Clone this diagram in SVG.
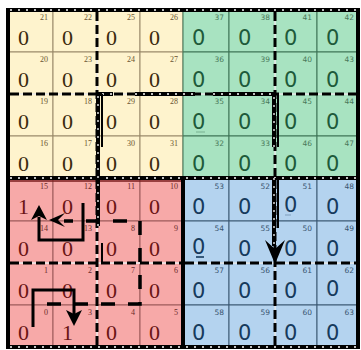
<svg xmlns="http://www.w3.org/2000/svg" width="361" height="350" viewBox="0 0 361 350">
<style>
.y rect{fill:#fef3cd;stroke:#9a8a6a;stroke-width:1}
.g rect{fill:#a8e3c1;stroke:#3f7457;stroke-width:1}
.p rect{fill:#f7a9a8;stroke:#9c5a5a;stroke-width:1}
.b rect{fill:#b4d3ef;stroke:#3d5a75;stroke-width:1}
.y text,.p text{font-family:"Liberation Serif","DejaVu Serif",serif}
.g text,.b text{font-family:"DejaVu Sans","Liberation Sans",sans-serif}
text.n{font-size:22px}
.g text.n,.b text.n{font-size:21px}
text.l{font-size:8px;text-anchor:end}
.g text.l,.b text.l{font-size:7.5px}
.y .n{fill:#3b2a0e}.y .l{fill:#6b5530}
.g .n{fill:#1e5a3a}.g .l{fill:#4a7a5a}
.p .n{fill:#6a1414}.p .l{fill:#6a2a2a}
.b .n{fill:#163a5c}.b .l{fill:#3a5570}
.wu{stroke:#fff;stroke-width:1.5;fill:none}
.dash{stroke:#000;stroke-width:3;stroke-dasharray:9 4;fill:none}
.thick{stroke:#000;stroke-width:4;fill:none}
.dots{stroke:#fff;stroke-width:1.3;stroke-dasharray:2 6;fill:none}
.thin{stroke:#000;stroke-width:2;fill:none}
.path{stroke:#000;stroke-width:3;fill:none}
.pdash{stroke:#000;stroke-width:3.5;stroke-dasharray:14 13;fill:none}
.ah{fill:#000}
</style>
<rect width="361" height="350" fill="#fff"/>
<g id="cells">
<!-- row 0 -->
<g id="c21" class="y"><rect x="9" y="10" width="44" height="42"/><text class="n" x="18" y="45">0</text><text class="l" x="48" y="20">21</text></g>
<g id="c22" class="y"><rect x="53" y="10" width="44" height="42"/><text class="n" x="62" y="45">0</text><text class="l" x="92" y="20">22</text></g>
<g id="c25" class="y"><rect x="97" y="10" width="43" height="42"/><text class="n" x="106" y="45">0</text><text class="l" x="135" y="20">25</text></g>
<g id="c26" class="y"><rect x="140" y="10" width="43" height="42"/><text class="n" x="149" y="45">0</text><text class="l" x="178" y="20">26</text></g>
<g id="c37" class="g"><rect x="183" y="10" width="46" height="42"/><text class="n" x="192" y="45">0</text><text class="l" x="224" y="20">37</text></g>
<g id="c38" class="g"><rect x="229" y="10" width="46" height="42"/><text class="n" x="238" y="45">0</text><text class="l" x="270" y="20">38</text></g>
<g id="c41" class="g"><rect x="275" y="10" width="42" height="42"/><text class="n" x="284" y="45">0</text><text class="l" x="312" y="20">41</text></g>
<g id="c42" class="g"><rect x="317" y="10" width="41" height="42"/><text class="n" x="326" y="45">0</text><text class="l" x="354" y="20">42</text></g>
<!-- row 1 -->
<g id="c20" class="y"><rect x="9" y="52" width="44" height="42"/><text class="n" x="18" y="87">0</text><text class="l" x="48" y="62">20</text></g>
<g id="c23" class="y"><rect x="53" y="52" width="44" height="42"/><text class="n" x="62" y="87">0</text><text class="l" x="92" y="62">23</text></g>
<g id="c24" class="y"><rect x="97" y="52" width="43" height="42"/><text class="n" x="106" y="87">0</text><text class="l" x="135" y="62">24</text></g>
<g id="c27" class="y"><rect x="140" y="52" width="43" height="42"/><text class="n" x="149" y="87">0</text><text class="l" x="178" y="62">27</text></g>
<g id="c36" class="g"><rect x="183" y="52" width="46" height="42"/><text class="n" x="192" y="87">0</text><text class="l" x="224" y="62">36</text></g>
<g id="c39" class="g"><rect x="229" y="52" width="46" height="42"/><text class="n" x="238" y="87">0</text><text class="l" x="270" y="62">39</text></g>
<g id="c40" class="g"><rect x="275" y="52" width="42" height="42"/><text class="n" x="284" y="87">0</text><text class="l" x="312" y="62">40</text></g>
<g id="c43" class="g"><rect x="317" y="52" width="41" height="42"/><text class="n" x="326" y="87">0</text><text class="l" x="354" y="62">43</text></g>
<!-- row 2 -->
<g id="c19" class="y"><rect x="9" y="94" width="44" height="42"/><text class="n" x="18" y="129">0</text><text class="l" x="48" y="104">19</text></g>
<g id="c18" class="y"><rect x="53" y="94" width="44" height="42"/><text class="n" x="62" y="129">0</text><text class="l" x="92" y="104">18</text></g>
<g id="c29" class="y"><rect x="97" y="94" width="43" height="42"/><text class="n" x="106" y="129">0</text><text class="l" x="135" y="104">29</text></g>
<g id="c28" class="y"><rect x="140" y="94" width="43" height="42"/><text class="n" x="149" y="129">0</text><text class="l" x="178" y="104">28</text></g>
<g id="c35" class="g"><rect x="183" y="94" width="46" height="42"/><text class="n" x="192" y="129">0</text><text class="l" x="224" y="104">35</text><line x1="196" y1="132" x2="205" y2="132" stroke="#1e5a3a" stroke-opacity="0.35" stroke-width="1"/></g>
<g id="c34" class="g"><rect x="229" y="94" width="46" height="42"/><text class="n" x="238" y="129">0</text><text class="l" x="270" y="104">34</text></g>
<g id="c45" class="g"><rect x="275" y="94" width="42" height="42"/><text class="n" x="284" y="129">0</text><text class="l" x="312" y="104">45</text></g>
<g id="c44" class="g"><rect x="317" y="94" width="41" height="42"/><text class="n" x="326" y="129">0</text><text class="l" x="354" y="104">44</text></g>
<!-- row 3 -->
<g id="c16" class="y"><rect x="9" y="136" width="44" height="42"/><text class="n" x="18" y="171">0</text><text class="l" x="48" y="146">16</text></g>
<g id="c17" class="y"><rect x="53" y="136" width="44" height="42"/><text class="n" x="62" y="171">0</text><text class="l" x="92" y="146">17</text></g>
<g id="c30" class="y"><rect x="97" y="136" width="43" height="42"/><text class="n" x="106" y="171">0</text><text class="l" x="135" y="146">30</text></g>
<g id="c31" class="y"><rect x="140" y="136" width="43" height="42"/><text class="n" x="149" y="171">0</text><text class="l" x="178" y="146">31</text></g>
<g id="c32" class="g"><rect x="183" y="136" width="46" height="42"/><text class="n" x="192" y="171">0</text><text class="l" x="224" y="146">32</text></g>
<g id="c33" class="g"><rect x="229" y="136" width="46" height="42"/><text class="n" x="238" y="171">0</text><text class="l" x="270" y="146">33</text></g>
<g id="c46" class="g"><rect x="275" y="136" width="42" height="42"/><text class="n" x="284" y="171">0</text><text class="l" x="312" y="146">46</text></g>
<g id="c47" class="g"><rect x="317" y="136" width="41" height="42"/><text class="n" x="326" y="171">0</text><text class="l" x="354" y="146">47</text></g>
<!-- row 4 -->
<g id="c15" class="p"><rect x="9" y="178" width="44" height="43"/><text class="n" x="18" y="214">1</text><text class="l" x="48" y="189">15</text></g>
<g id="c12" class="p"><rect x="53" y="178" width="44" height="43"/><text class="n" x="62" y="214">0</text><text class="l" x="92" y="189">12</text></g>
<g id="c11" class="p"><rect x="97" y="178" width="43" height="43"/><text class="n" x="106" y="214">0</text><text class="l" x="135" y="189">11</text></g>
<g id="c10" class="p"><rect x="140" y="178" width="43" height="43"/><text class="n" x="149" y="214">0</text><text class="l" x="178" y="189">10</text></g>
<g id="c53" class="b"><rect x="183" y="178" width="46" height="43"/><text class="n" x="192" y="214">0</text><text class="l" x="224" y="189">53</text></g>
<g id="c52" class="b"><rect x="229" y="178" width="46" height="43"/><text class="n" x="238" y="214">0</text><text class="l" x="270" y="189">52</text></g>
<g id="c51" class="b"><rect x="275" y="178" width="42" height="43"/><text class="n" x="284" y="212">0</text><text class="l" x="312" y="189">51</text><line x1="285" y1="215" x2="291" y2="215" stroke="#163a5c" stroke-opacity="0.35" stroke-width="1"/></g>
<g id="c48" class="b"><rect x="317" y="178" width="41" height="43"/><text class="n" x="326" y="214">0</text><text class="l" x="354" y="189">48</text></g>
<!-- row 5 -->
<g id="c14" class="p"><rect x="9" y="221" width="44" height="42"/><text class="n" x="18" y="256">0</text><text class="l" x="48" y="231">14</text></g>
<g id="c13" class="p"><rect x="53" y="221" width="44" height="42"/><text class="n" x="62" y="256">0</text><text class="l" x="92" y="231">13</text></g>
<g id="c8" class="p"><rect x="97" y="221" width="43" height="42"/><text class="n" x="106" y="256">0</text><text class="l" x="135" y="231">8</text></g>
<g id="c9" class="p"><rect x="140" y="221" width="43" height="42"/><text class="n" x="149" y="256">0</text><text class="l" x="178" y="231">9</text></g>
<g id="c54" class="b"><rect x="183" y="221" width="46" height="42"/><text class="n" x="192" y="254">0</text><text class="l" x="224" y="231">54</text><line x1="196" y1="257" x2="204" y2="257" stroke="#163a5c" stroke-width="1.6"/></g>
<g id="c55" class="b"><rect x="229" y="221" width="46" height="42"/><text class="n" x="238" y="256">0</text><text class="l" x="270" y="231">55</text></g>
<g id="c50" class="b"><rect x="275" y="221" width="42" height="42"/><text class="n" x="284" y="256">0</text><text class="l" x="312" y="231">50</text></g>
<g id="c49" class="b"><rect x="317" y="221" width="41" height="42"/><text class="n" x="326" y="256">0</text><text class="l" x="354" y="231">49</text></g>
<!-- row 6 -->
<g id="c1" class="p"><rect x="9" y="263" width="44" height="42"/><text class="n" x="18" y="298">0</text><text class="l" x="48" y="273">1</text></g>
<g id="c2" class="p"><rect x="53" y="263" width="44" height="42"/><text class="n" x="62" y="298">0</text><text class="l" x="92" y="273">2</text></g>
<g id="c7" class="p"><rect x="97" y="263" width="43" height="42"/><text class="n" x="106" y="298">0</text><text class="l" x="135" y="273">7</text></g>
<g id="c6" class="p"><rect x="140" y="263" width="43" height="42"/><text class="n" x="149" y="298">0</text><text class="l" x="178" y="273">6</text></g>
<g id="c57" class="b"><rect x="183" y="263" width="46" height="42"/><text class="n" x="192" y="298">0</text><text class="l" x="224" y="273">57</text></g>
<g id="c56" class="b"><rect x="229" y="263" width="46" height="42"/><text class="n" x="238" y="298">0</text><text class="l" x="270" y="273">56</text></g>
<g id="c61" class="b"><rect x="275" y="263" width="42" height="42"/><text class="n" x="284" y="298">0</text><text class="l" x="312" y="273">61</text></g>
<g id="c62" class="b"><rect x="317" y="263" width="41" height="42"/><text class="n" x="326" y="296">0</text><text class="l" x="354" y="273">62</text></g>
<!-- row 7 -->
<g id="c0" class="p"><rect x="9" y="305" width="44" height="42"/><text class="n" x="18" y="340">0</text><text class="l" x="48" y="315">0</text></g>
<g id="c3" class="p"><rect x="53" y="305" width="44" height="42"/><text class="n" x="62" y="340">1</text><text class="l" x="92" y="315">3</text></g>
<g id="c4" class="p"><rect x="97" y="305" width="43" height="42"/><text class="n" x="106" y="340">0</text><text class="l" x="135" y="315">4</text></g>
<g id="c5" class="p"><rect x="140" y="305" width="43" height="42"/><text class="n" x="149" y="340">0</text><text class="l" x="178" y="315">5</text></g>
<g id="c58" class="b"><rect x="183" y="305" width="46" height="42"/><text class="n" x="192" y="340">0</text><text class="l" x="224" y="315">58</text></g>
<g id="c59" class="b"><rect x="229" y="305" width="46" height="42"/><text class="n" x="238" y="340">0</text><text class="l" x="270" y="315">59</text></g>
<g id="c60" class="b"><rect x="275" y="305" width="42" height="42"/><text class="n" x="284" y="340">0</text><text class="l" x="312" y="315">60</text></g>
<g id="c63" class="b"><rect x="317" y="305" width="41" height="42"/><text class="n" x="326" y="340">0</text><text class="l" x="354" y="315">63</text></g>
</g>
<g id="connectors">
<!-- borders -->
<line x1="9" y1="181" x2="183" y2="181" stroke="#7a1e1e" stroke-width="1.5"/>
<rect x="8" y="10" width="350" height="337" fill="none" stroke="#000" stroke-width="4"/>
<line x1="183" y1="178" x2="183" y2="347" class="thick"/>
<line x1="8" y1="178" x2="358" y2="178" class="thick"/>
<line x1="10" y1="10" x2="356" y2="10" class="dots"/>
<line x1="10" y1="178" x2="356" y2="178" class="dots"/>
<line x1="10" y1="347" x2="356" y2="347" class="dots"/>
<!-- sub-quadrant dashed boundaries -->
<path class="wu" d="M97 12V176M97 180V345M275 12V176M275 180V345M10 94H357M10 263H181M185 263H357"/>
<path class="dash" d="M97 12V176M97 180V345M275 12V176M275 180V345M10 94H357M10 263H181M185 263H357"/>
<!-- order-1 curve -->
<path class="thick" d="M98 226V94H113M135 94H195M213 94H274V147M274 178V246"/>
<path class="dots" d="M98 226V94H113M135 94H195M213 94H274V147M274 178V246"/>
<path class="thin" d="M102 94V147M102 243V262M278 94V147M278 178V228"/>
<path class="ah" d="M275 264L265 240L275 249L285 240Z"/>
<!-- order-2 paths in pink quadrant -->
<path class="path" d="M33 327V290H74V314"/>
<path class="ah" d="M74 326L66 310L74 314L82 310Z"/>
<path class="path" d="M83 203V240H39V217"/>
<path class="ah" d="M39 205L31 220L39 216L47 220Z"/>
<path class="pdash" d="M47 304H140V221H64"/>
<path class="ah" d="M49 220L65 213L58 220L65 227Z"/>
</g>
</svg>
